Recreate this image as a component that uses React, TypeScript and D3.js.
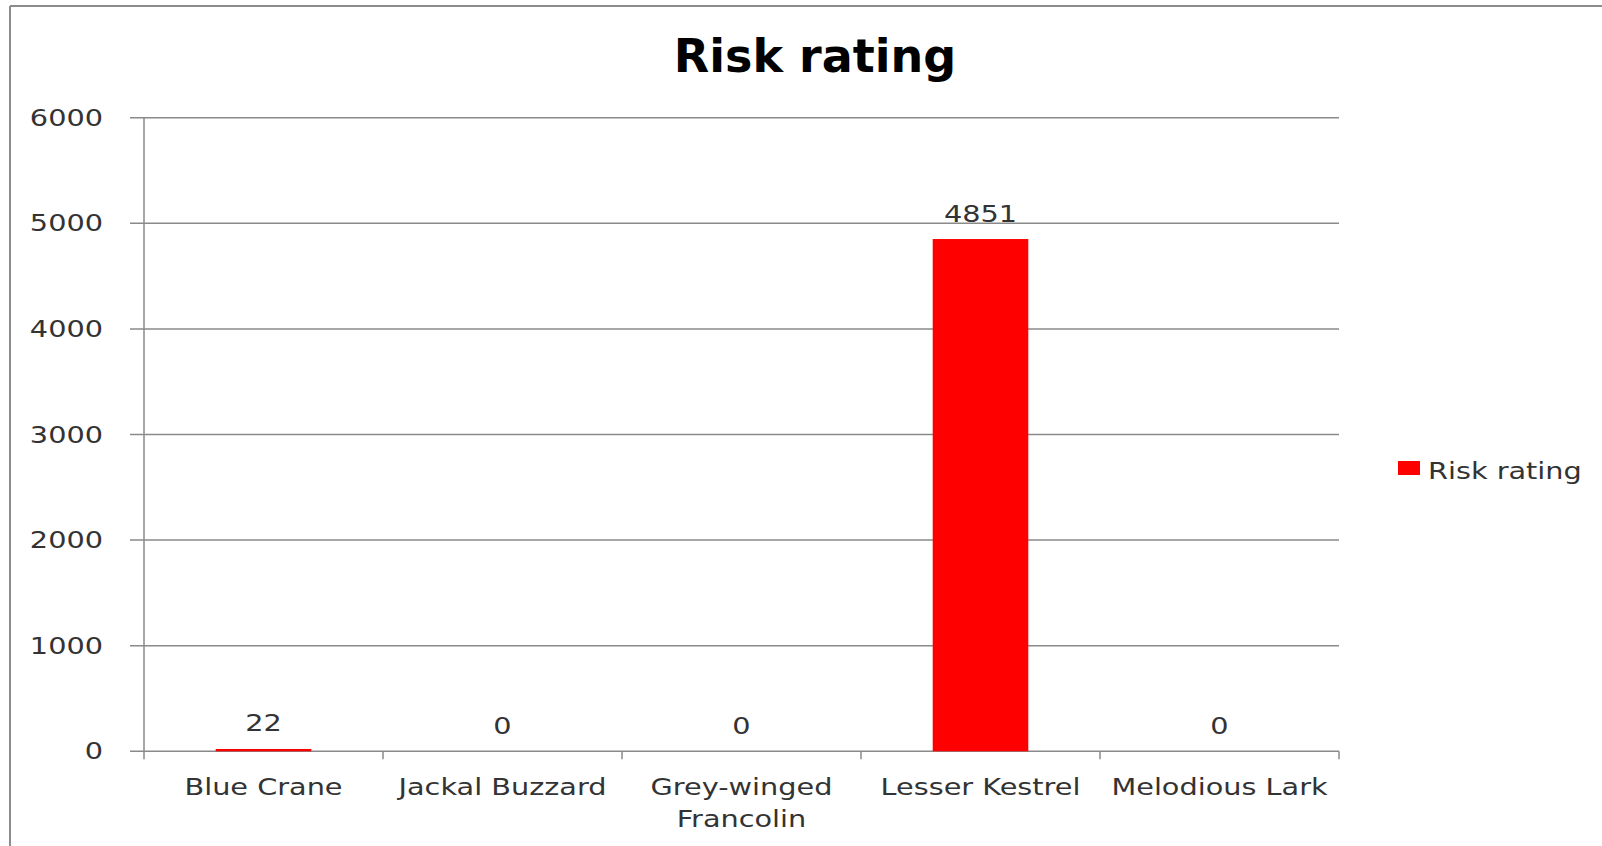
import React from "react";
import * as d3 from "d3";

// Risk rating per species
const categories = ["Blue Crane", "Jackal Buzzard", "Grey-winged Francolin", "Lesser Kestrel", "Melodious Lark"];
const riskValues = [22, 0, 0, 4851, 0];
const yTicks = [0, 1000, 2000, 3000, 4000, 5000, 6000];
const seriesName = "Risk rating";
const chartTitle = "Risk rating";

const W = 1602;
const H = 846;
const FONT = "'DejaVu Sans', Verdana, sans-serif";
const FS = 23;
const SX = 1.25; // horizontal stretch of labels
const TEXT = "#333333";
const GRID = "#8a8a8a";
const BAR = "#ff0000";

const plot = { left: 144, right: 1339, top: 117.7, bottom: 751.3 };

let ctx: CanvasRenderingContext2D | null = null;
function measure(s: string): number {
  if (!ctx) ctx = document.createElement("canvas").getContext("2d");
  if (!ctx) return s.length * FS * 0.6 * SX;
  ctx.font = `${FS}px ${FONT}`;
  return ctx.measureText(s).width * SX;
}

function wrap(label: string, maxW: number): string[] {
  const words = label.split(" ");
  const lines: string[] = [];
  let cur = "";
  for (const w of words) {
    const next = cur ? cur + " " + w : w;
    if (cur && measure(next) > maxW) {
      lines.push(cur);
      cur = w;
    } else cur = next;
  }
  if (cur) lines.push(cur);
  return lines;
}

function SText(props: { x: number; y: number; anchor: "start" | "middle" | "end"; children: React.ReactNode; fill?: string }) {
  return (
    <text
      transform={`translate(${props.x},${props.y}) scale(${SX},1)`}
      textAnchor={props.anchor}
      fontFamily={FONT}
      fontSize={FS}
      fill={props.fill ?? TEXT}
    >
      {props.children}
    </text>
  );
}

export default function App() {
  const x = d3.scaleBand<string>().domain(categories).range([plot.left, plot.right]).paddingInner(0).paddingOuter(0);
  const y = d3.scaleLinear().domain([0, 6000]).range([plot.bottom, plot.top]);
  const bw = x.bandwidth() * 0.4;
  const boundaries = [...categories.map((c) => x(c) as number), plot.right];

  return (
    <svg width={W} height={H} style={{ position: "absolute", left: 0, top: 0, background: "#fff" }}>
      <rect x={0} y={0} width={W} height={H} fill="#fff" />
      {/* chart frame */}
      <line x1={10} y1={6} x2={W} y2={6} stroke="#8c8c8c" strokeWidth={2} />
      <line x1={10} y1={6} x2={10} y2={H} stroke="#8c8c8c" strokeWidth={2} />

      <text x={815} y={72} textAnchor="middle" fontFamily={FONT} fontWeight="bold" fontSize={46} fill="#000">
        {chartTitle}
      </text>

      {/* gridlines and y ticks */}
      {yTicks.map((t) => (
        <g key={t}>
          <line x1={plot.left - 14} x2={plot.right} y1={y(t)} y2={y(t)} stroke={GRID} strokeWidth={1.5} />
          <SText x={103} y={y(t) + 8} anchor="end">{t}</SText>
        </g>
      ))}
      <line x1={plot.left} x2={plot.left} y1={plot.top} y2={plot.bottom} stroke={GRID} strokeWidth={1.5} />

      {/* category ticks */}
      {boundaries.map((bx, i) => (
        <line key={i} x1={bx} x2={bx} y1={plot.bottom} y2={plot.bottom + 8} stroke={GRID} strokeWidth={1.5} />
      ))}

      {/* bars */}
      {categories.map((c, i) => {
        const cx = (x(c) as number) + x.bandwidth() / 2;
        const v = riskValues[i];
        return (
          <g key={c}>
            <rect x={cx - bw / 2} y={y(v)} width={bw} height={y(0) - y(v)} fill={BAR} />
            <SText x={cx} y={y(v) - 17.5} anchor="middle">{v}</SText>
          </g>
        );
      })}

      {/* category labels */}
      {categories.map((c) => {
        const cx = (x(c) as number) + x.bandwidth() / 2;
        const lines = wrap(c, x.bandwidth() - 12);
        return (
          <g key={c}>
            {lines.map((ln, j) => (
              <SText key={j} x={cx} y={795 + j * 32} anchor="middle">{ln}</SText>
            ))}
          </g>
        );
      })}

      {/* legend */}
      <rect x={1398} y={461} width={22} height={14} fill={BAR} />
      <SText x={1428} y={479} anchor="start">{seriesName}</SText>
    </svg>
  );
}
